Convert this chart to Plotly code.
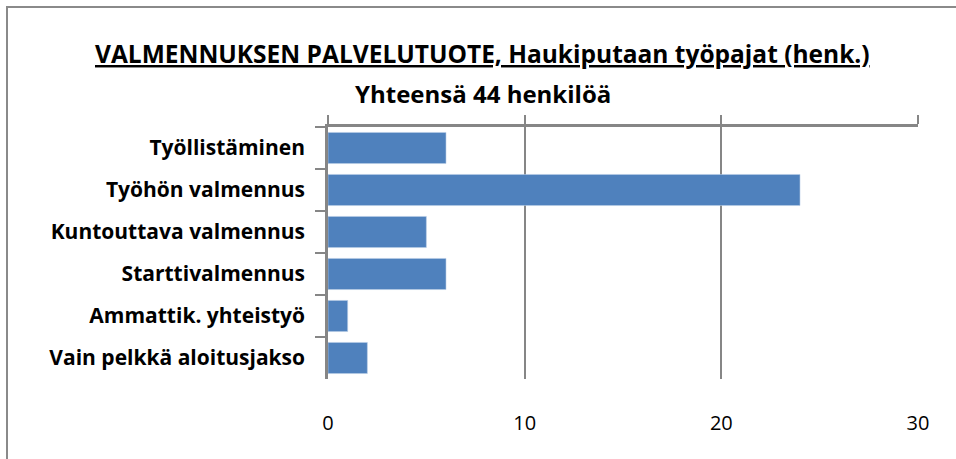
import plotly.graph_objects as go

categories = ["Työllistäminen", "Työhön valmennus", "Kuntouttava valmennus",
              "Starttivalmennus", "Ammattik. yhteistyö", "Vain pelkkä aloitusjakso"]
values = [6, 24, 5, 6, 1, 2]
x_ticks = [0, 10, 20, 30]
title_line1 = "VALMENNUKSEN PALVELUTUOTE, Haukiputaan työpajat (henk.)"
title_line2 = "Yhteensä 44 henkilöä"

W, H = 956, 459
L, R, T, B = 328, 38, 127, 80
pw, ph = W - L - R, H - T - B


def px_x(px):
    return (px - L) / pw


def px_y(py):
    return (H - B - py) / ph


GREY = "#868686"
FONT = "Open Sans"

fig = go.Figure()
fig.add_trace(go.Bar(
    y=categories, x=values, orientation="h",
    marker=dict(color="#4F81BD", line=dict(color="#B9CDE5", width=0.6)),
    hoverinfo="x+y", showlegend=False,
))
# invisible companion trace so the top axis (line + outside ticks) is drawn
fig.add_trace(go.Scatter(
    y=categories, x=values, xaxis="x2", mode="none",
    hoverinfo="skip", showlegend=False,
))

fig.update_layout(
    width=W, height=H,
    margin=dict(l=L, r=R, t=T, b=B),
    paper_bgcolor="white", plot_bgcolor="white",
    bargap=0.26,
    font=dict(family=FONT, color="black"),
    xaxis=dict(
        range=[0, 30], tickvals=x_ticks, ticktext=[str(v) for v in x_ticks],
        showgrid=True, gridcolor=GREY, gridwidth=1.5,
        zeroline=False, showline=False, ticks="",
        tickfont=dict(size=20, family=FONT, color="black"),
        ticklabelstandoff=30, fixedrange=True,
    ),
    xaxis2=dict(
        range=[0, 30], overlaying="x", side="top", anchor="y",
        tickvals=x_ticks, showticklabels=False,
        showline=True, linecolor=GREY, linewidth=2.5,
        ticks="outside", ticklen=9, tickcolor=GREY, tickwidth=1.5,
        showgrid=False, zeroline=False, fixedrange=True,
    ),
    yaxis=dict(
        type="category", autorange="reversed",
        showline=True, linecolor=GREY, linewidth=2.5,
        ticks="outside", tickson="boundaries", ticklen=10,
        tickcolor=GREY, tickwidth=1.5,
        showgrid=False, zeroline=False,
        tickfont=dict(size=21, family=FONT, color="black", weight="bold"),
        ticklabelstandoff=16, fixedrange=True,
    ),
    shapes=[dict(
        type="path", xref="paper", yref="paper",
        path=f"M {px_x(7)} {px_y(470)} L {px_x(7)} {px_y(7)} L {px_x(965)} {px_y(7)}",
        line=dict(color="#8A8A8A", width=2),
    )],
    annotations=[
        dict(text=f"<u>{title_line1}</u>", xref="paper", yref="paper",
             x=px_x(482), y=px_y(54), xanchor="center", yanchor="middle",
             showarrow=False, font=dict(size=24.5, family=FONT, color="black", weight="bold")),
        dict(text=title_line2, xref="paper", yref="paper",
             x=px_x(483), y=px_y(93), xanchor="center", yanchor="middle",
             showarrow=False, font=dict(size=24, family=FONT, color="black", weight="bold")),
    ],
)

fig.write_html(
    "out.html", config={"displayModeBar": False},
    post_script="document.body.style.margin='0';document.body.style.overflow='hidden';",
)
